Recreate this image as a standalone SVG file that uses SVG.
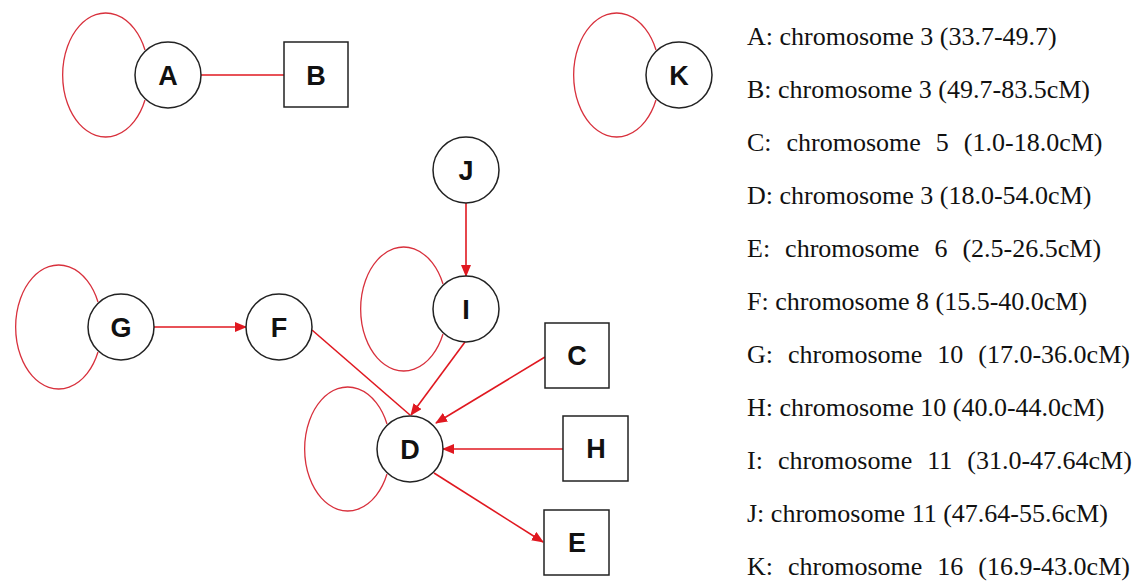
<svg xmlns="http://www.w3.org/2000/svg" width="1142" height="583" viewBox="0 0 1142 583">
  <style>
    .node circle, .node rect { fill: #ffffff; stroke: #222222; stroke-width: 1.5; }
    .node text { font-family: "Liberation Sans", Arial, sans-serif; font-size: 27px; font-weight: bold; fill: #111111; text-anchor: middle; }
    .loop { fill: none; stroke: #d8303c; stroke-width: 1.3; }
    .edge { fill: none; stroke: #e01820; stroke-width: 1.6; }
    .legend text { font-family: "Liberation Serif", "Times New Roman", serif; font-size: 26px; fill: #111111; white-space: pre; }
  </style>
  <defs>
    <marker id="arrow" markerUnits="userSpaceOnUse" markerWidth="12" markerHeight="10" refX="11" refY="5" orient="auto">
      <path d="M0,0 L12,5 L0,10 z" fill="#e01820"/>
    </marker>
  </defs>

  <rect width="1142" height="583" fill="#ffffff"/>

  <!-- connectors -->
  <g id="connectors">
    <line class="edge" x1="201" y1="75" x2="284" y2="75"/>
    <line class="edge" x1="154" y1="327" x2="246" y2="327" marker-end="url(#arrow)"/>
    <line class="edge" x1="466" y1="203" x2="466" y2="276" marker-end="url(#arrow)"/>
    <line class="edge" x1="312" y1="330" x2="410" y2="415"/>
    <line class="edge" x1="465" y1="342" x2="411" y2="415" marker-end="url(#arrow)"/>
    <line class="edge" x1="545" y1="357" x2="436" y2="423" marker-end="url(#arrow)"/>
    <line class="edge" x1="563" y1="449" x2="443" y2="449" marker-end="url(#arrow)"/>
    <line class="edge" x1="434" y1="473" x2="543" y2="542" marker-end="url(#arrow)"/>
    <!-- self loops -->
    <path class="loop" d="M145,50 A43,62 0 1 0 145,100"/>
    <path class="loop" d="M656,50 A43,62 0 1 0 656,100"/>
    <path class="loop" d="M98,302 A43,62 0 1 0 98,352"/>
    <path class="loop" d="M443,284 A43,62 0 1 0 443,334"/>
    <path class="loop" d="M387,424 A43,62 0 1 0 387,474"/>
  </g>

  <!-- nodes -->
  <g id="node-A" class="node"><circle cx="168" cy="75" r="33"/><text x="168" y="85">A</text></g>
  <g id="node-B" class="node"><rect x="284" y="42" width="64" height="65"/><text x="316" y="85">B</text></g>
  <g id="node-K" class="node"><circle cx="679" cy="75" r="33"/><text x="679" y="85">K</text></g>
  <g id="node-J" class="node"><circle cx="466" cy="170" r="33"/><text x="466" y="180">J</text></g>
  <g id="node-G" class="node"><circle cx="121" cy="327" r="33"/><text x="121" y="337">G</text></g>
  <g id="node-F" class="node"><circle cx="279" cy="327" r="33"/><text x="279" y="337">F</text></g>
  <g id="node-I" class="node"><circle cx="466" cy="309" r="33"/><text x="466" y="319">I</text></g>
  <g id="node-C" class="node"><rect x="545" y="323" width="64" height="65"/><text x="577" y="365">C</text></g>
  <g id="node-D" class="node"><circle cx="410" cy="449" r="33"/><text x="410" y="459">D</text></g>
  <g id="node-H" class="node"><rect x="563" y="416" width="65" height="65"/><text x="596" y="458">H</text></g>
  <g id="node-E" class="node"><rect x="544" y="510" width="65" height="65"/><text x="577" y="552">E</text></g>

  <!-- legend -->
  <g id="legend" class="legend">
    <text x="747" y="45">A: chromosome 3 (33.7-49.7)</text>
    <text x="747" y="98">B: chromosome 3 (49.7-83.5cM)</text>
    <text x="747" y="151" word-spacing="1">C:  chromosome  5  (1.0-18.0cM)</text>
    <text x="747" y="204">D: chromosome 3 (18.0-54.0cM)</text>
    <text x="747" y="257" word-spacing="1">E:  chromosome  6  (2.5-26.5cM)</text>
    <text x="747" y="310">F: chromosome 8 (15.5-40.0cM)</text>
    <text x="747" y="363" word-spacing="1">G:  chromosome  10  (17.0-36.0cM)</text>
    <text x="747" y="416">H: chromosome 10 (40.0-44.0cM)</text>
    <text x="747" y="469" word-spacing="1">I:  chromosome  11  (31.0-47.64cM)</text>
    <text x="747" y="522">J: chromosome 11 (47.64-55.6cM)</text>
    <text x="747" y="575" word-spacing="1">K:  chromosome  16  (16.9-43.0cM)</text>
  </g>
</svg>
